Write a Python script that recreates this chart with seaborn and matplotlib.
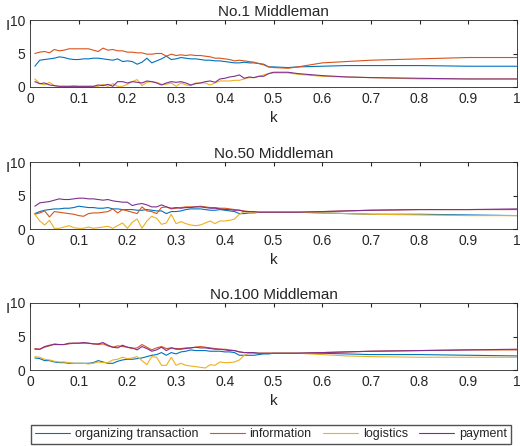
import numpy as np
import pandas as pd
import matplotlib
matplotlib.use("Agg")
import matplotlib.pyplot as plt
import seaborn as sns

k_head = [round(0.01 * i, 2) for i in range(1, 51)]
k_tail = [0.53, 0.55, 0.6, 0.65, 0.7, 0.8, 0.9, 1.0]
k = k_head + k_tail

series_names = ["organizing transaction", "information", "logistics", "payment"]
colors = ["#0072BD", "#D95319", "#EDB120", "#7E2F8E"]
titles = ["No.1 Middleman", "No.50 Middleman", "No.100 Middleman"]

# No.1 Middleman
m1_org = [3.1,4.0,4.1,4.2,4.3,4.5,4.4,4.2,4.1,4.1,4.2,4.2,4.3,4.3,4.2,4.1,4.0,4.2,3.8,3.9,3.8,3.4,3.7,4.3,3.6,3.9,4.2,4.6,4.1,4.2,
          4.4,4.3,4.2,4.2,4.1,4.0,4.0,3.9,3.9,3.8,3.7,3.6,3.6,3.7,3.6,3.6,3.5,3.4,3.0,3.0,
          2.9,3.0,3.1,3.2,3.2,3.2,3.1,3.1]
m1_info = [5.0,5.2,5.3,5.1,5.6,5.4,5.5,5.7,5.7,5.7,5.7,5.7,5.5,5.3,5.8,5.5,5.6,5.4,5.4,5.2,5.2,5.1,5.1,4.9,4.9,5.0,5.0,4.6,4.9,4.7,
           4.8,4.7,4.8,4.7,4.7,4.6,4.5,4.3,4.3,4.2,4.1,3.9,4.0,3.9,3.8,3.7,3.5,3.3,3.0,2.9,
           2.8,3.0,3.6,3.8,4.0,4.2,4.4,4.4]
m1_log = [1.2,0.5,0.3,0.7,0.2,0.1,0.1,0.1,0.2,0.1,0.1,0.1,0.1,0.1,0.4,0.1,0.5,0.1,0.1,0.4,0.8,1.1,0.2,0.7,0.8,0.7,0.4,0.4,0.6,0.1,
          0.6,0.3,0.2,0.6,0.6,0.6,0.3,0.6,0.9,0.9,0.9,1.0,1.0,1.2,1.4,1.4,1.6,1.8,2.0,2.1,
          2.1,1.9,1.6,1.5,1.4,1.2,1.2,1.2]
m1_pay = [0.8,0.5,0.6,0.3,0.2,0.1,0.1,0.1,0.1,0.1,0.1,0.1,0.1,0.3,0.2,0.4,0.1,0.8,0.8,0.6,0.8,0.7,0.6,0.9,0.8,0.6,0.3,0.6,0.8,0.7,
          0.8,0.6,0.3,0.5,0.6,0.8,0.9,0.7,1.2,1.3,1.5,1.6,1.8,1.3,1.5,1.4,1.6,1.6,2.0,2.2,
          2.2,2.0,1.7,1.5,1.4,1.3,1.2,1.2]

# No.50 Middleman
m50_org = [2.3,2.6,2.8,2.9,3.0,3.0,3.1,3.1,3.2,3.4,3.3,3.2,3.2,3.1,3.1,3.2,3.0,3.0,2.9,2.9,2.9,2.8,2.8,2.9,2.8,2.7,2.7,2.3,2.6,2.6,
           2.7,2.9,3.0,3.0,3.0,2.9,2.8,2.8,2.9,2.8,2.7,2.6,2.3,2.3,2.4,2.4,2.5,2.5,2.5,2.5,
           2.5,2.5,2.4,2.3,2.2,2.2,2.1,2.0]
m50_info = [2.2,2.4,2.7,1.8,2.6,2.5,2.4,2.3,2.2,2.0,1.9,2.3,2.4,2.4,2.5,2.6,3.0,2.4,2.9,2.7,2.5,2.3,3.3,2.7,2.6,2.3,3.2,3.3,3.0,3.1,
            3.2,3.3,3.3,3.3,3.4,3.3,3.2,3.2,3.1,3.1,3.0,2.9,2.8,2.7,2.6,2.5,2.5,2.5,2.5,2.5,
            2.5,2.5,2.6,2.7,2.8,2.9,2.9,2.9]
m50_log = [2.2,1.2,0.6,1.3,0.1,0.1,0.3,0.5,0.2,0.1,0.1,0.3,0.1,0.2,0.3,0.4,0.1,0.5,0.9,0.1,1.0,1.5,0.1,1.2,1.9,1.6,0.7,0.9,2.2,0.8,
           1.1,0.8,0.6,0.5,0.6,0.9,1.2,0.8,1.2,1.2,1.3,1.5,2.2,2.6,2.5,2.5,2.5,2.5,2.5,2.5,
           2.5,2.5,2.4,2.3,2.2,2.1,2.0,2.0]
m50_pay = [3.4,3.9,4.0,4.1,4.3,4.5,4.4,4.4,4.5,4.6,4.6,4.5,4.5,4.4,4.3,4.4,4.2,4.1,4.0,4.0,3.5,3.7,3.8,3.6,3.3,3.3,3.6,3.3,3.1,3.2,
           3.1,3.2,3.2,3.3,3.3,3.2,3.1,3.1,3.0,2.9,2.9,2.8,2.8,2.6,2.6,2.6,2.5,2.5,2.5,2.5,
           2.5,2.5,2.6,2.7,2.8,2.9,2.9,3.0]

# No.100 Middleman
m100_org = [1.8,1.7,1.4,1.4,1.2,1.1,1.1,1.0,1.0,1.0,1.0,1.0,1.1,1.4,1.2,1.0,1.0,1.3,1.5,1.6,1.6,1.7,1.8,2.0,2.2,2.3,2.6,2.2,2.6,2.4,
            2.7,2.8,3.0,2.9,2.9,2.9,2.8,2.8,2.8,2.7,2.7,2.6,2.2,2.2,2.2,2.2,2.3,2.4,2.4,2.5,
            2.5,2.5,2.5,2.4,2.3,2.3,2.2,2.1]
m100_info = [3.2,3.1,3.4,3.6,3.9,3.8,3.8,3.9,4.0,4.0,4.0,4.0,3.9,3.8,3.9,3.6,3.4,3.6,3.5,3.4,3.2,3.3,3.8,3.4,3.0,3.3,3.5,3.2,3.3,3.2,
             3.2,3.3,3.3,3.4,3.5,3.4,3.3,3.2,3.1,3.1,3.0,2.9,2.7,2.6,2.6,2.5,2.5,2.5,2.5,2.5,
             2.5,2.5,2.6,2.7,2.8,2.9,3.0,3.0]
m100_log = [2.0,1.9,1.6,1.5,1.3,1.2,1.2,1.1,1.0,1.0,1.0,0.9,1.0,1.2,1.1,1.1,1.5,1.6,1.9,1.7,1.8,2.0,1.4,0.8,2.0,1.9,0.7,0.7,1.9,0.7,
            1.0,0.7,0.6,0.5,0.4,0.3,0.8,0.7,1.2,1.1,1.1,1.2,1.5,2.2,2.5,2.5,2.5,2.5,2.5,2.5,
            2.5,2.5,2.3,2.1,2.0,1.9,1.9,1.9]
m100_pay = [3.1,3.1,3.5,3.7,3.8,3.8,3.8,4.0,4.0,4.0,4.1,4.0,3.9,3.9,4.1,3.7,3.4,3.3,3.7,3.4,3.3,3.0,3.5,3.2,2.8,3.0,3.4,2.9,3.3,3.1,
            3.1,3.2,3.3,3.4,3.3,3.3,3.2,3.1,3.1,3.0,2.9,2.9,2.7,2.6,2.6,2.6,2.5,2.5,2.5,2.5,
            2.5,2.5,2.6,2.7,2.8,2.9,3.0,3.1]

panels = [
    [m1_org, m1_info, m1_log, m1_pay],
    [m50_org, m50_info, m50_log, m50_pay],
    [m100_org, m100_info, m100_log, m100_pay],
]

sns.set_style("white")
plt.rcParams["font.family"] = ["Liberation Sans", "DejaVu Sans"]

fig = plt.figure(figsize=(5.2, 4.46), dpi=100)
tops = [20, 162, 303]
for i, (title, vals) in enumerate(zip(titles, panels)):
    top = tops[i]
    ax = fig.add_axes([30 / 520, 1 - (top + 67) / 446, 487 / 520, 67 / 446])
    df = pd.DataFrame({"k": k * 4,
                       "I": sum(vals, []),
                       "series": sum([[n] * len(k) for n in series_names], [])})
    sns.lineplot(data=df, x="k", y="I", hue="series", palette=colors,
                 hue_order=series_names, linewidth=0.8, ax=ax, legend=(i == 2))
    ax.set_xlim(0, 1)
    ax.set_ylim(0, 10)
    ax.set_xticks(np.arange(0, 1.01, 0.1))
    ax.set_xticklabels(["0", "0.1", "0.2", "0.3", "0.4", "0.5", "0.6", "0.7", "0.8", "0.9", "1"])
    ax.set_yticks([0, 5, 10])
    ax.tick_params(direction="in", length=3, labelsize=10, top=True, right=True, color="#262626")
    for s in ax.spines.values():
        s.set_color("#262626")
        s.set_linewidth(0.6)
    ax.set_title(title, fontsize=11, pad=3)
    ax.set_xlabel("k", fontsize=11)
    ax.set_ylabel("I", fontsize=11, rotation=0, labelpad=6)
    ax.yaxis.set_label_coords(-0.045, 0.8)
    if i == 2:
        handles, labels = ax.get_legend_handles_labels()
        ax.get_legend().remove()
        fig.legend(handles, labels, loc="lower right", bbox_to_anchor=(511 / 520, 2 / 446),
                   ncol=4, fontsize=9, frameon=True, fancybox=False, edgecolor="#262626",
                   handlelength=2.8, handletextpad=0.4, columnspacing=0.9,
                   borderpad=0.3, borderaxespad=0)

fig.savefig("out.png", dpi=100)
